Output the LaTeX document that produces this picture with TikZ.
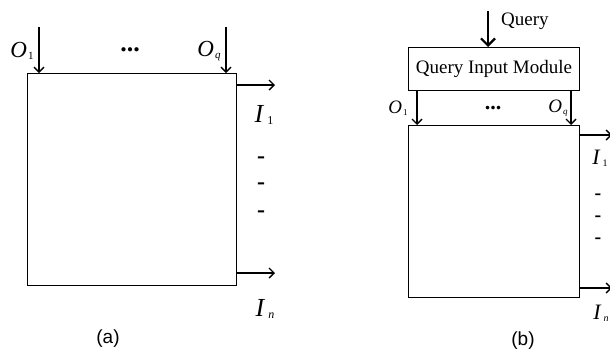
\documentclass[tikz,border=0pt]{standalone}
\usepackage{fontspec}
\setmainfont{Liberation Serif}
\newfontfamily\sansf{Liberation Sans}
\usetikzlibrary{arrows.meta}
\newcommand{\lab}[5]{{\fontsize{#1}{#1}\selectfont\itshape #2}\kern#5\raisebox{-0.2em}{\fontsize{#4}{#4}\selectfont #3}}
\tikzset{
  box/.style={draw, line width=1pt, anchor=north west, inner sep=0pt},
  arr/.style={line width=1.6pt, -{Straight Barb[length=5pt,width=10pt,line width=1.4pt]}},
  bigarr/.style={line width=2.4pt, -{Straight Barb[length=7pt,width=14pt,line width=2.2pt]}},
  lbl/.style={inner sep=0pt},
  dashmark/.style={inner sep=0pt, font=\fontsize{24}{24}\selectfont\bfseries},
  dotsmark/.style={inner sep=0pt, font=\fontsize{26}{26}\selectfont\bfseries},
}
\begin{document}
\begin{tikzpicture}[x=1pt,y=-1pt]
\useasboundingbox (0,0) rectangle (610,357);
% ---------- (a) ----------
\node[box, minimum width=209pt, minimum height=212pt] (A) at (27,73) {};
\coordinate (ao1) at (39,27);
\coordinate (aoq) at (226,27);
\draw[arr] (ao1) -- (ao1 |- A.north);
\draw[arr] (aoq) -- (aoq |- A.north);
\coordinate (ai1) at (275,85);
\coordinate (ain) at (275,273);
\draw[arr] (ai1 -| A.east) -- (ai1);
\draw[arr] (ain -| A.east) -- (ain);
\node[lbl] (aO1) at (22,51) {\lab{23}{O}{1}{11}{1pt}};
\node[lbl] (aOq) at (209,51) {\lab{23}{O}{\itshape q}{11}{1pt}};
\node[dotsmark] (adots) at (130,50) {...};
\node[lbl] (aI1) at (264,115) {\lab{26}{I}{1}{12}{4pt}};
\node[lbl] (aIn) at (265,309) {\lab{26}{I}{\itshape n}{12}{4pt}};
\node[dashmark] (ad1) at (261,160) {-};
\node[dashmark] (ad2) at (261,186) {-};
\node[dashmark] (ad3) at (261,214) {-};
\node[lbl, font=\sansf\fontsize{19}{19}\selectfont] (capa) at (108,339) {(a)};
% ---------- (b) ----------
\node[box, minimum width=171pt, minimum height=43pt] (Q) at (408,47) {};
\node[lbl, font=\fontsize{19}{19}\selectfont] (qtext) at (Q.center) {Query Input Module};
\node[box, minimum width=171pt, minimum height=172pt] (B) at (408,125) {};
\coordinate (qs) at (488,11);
\draw[bigarr] (qs) -- (qs |- Q.north);
\node[lbl, anchor=west, font=\fontsize{19}{19}\selectfont] (qlab) at (501,21) {Query};
\coordinate (bo1) at (417,100);
\coordinate (boq) at (571,100);
\draw[arr] (bo1 |- Q.south) -- (bo1 |- B.north);
\draw[arr] (boq |- Q.south) -- (boq |- B.north);
\node[lbl] (bO1) at (398,108) {\lab{19}{O}{1}{9}{1pt}};
\node[lbl] (bOq) at (558,108) {\lab{19}{O}{\itshape q}{9}{1pt}};
\node[dotsmark, font=\fontsize{22}{22}\selectfont\bfseries] (bdots) at (493,108) {...};
\coordinate (bi1) at (612,135);
\coordinate (bin) at (612,288);
\draw[arr] (bi1 -| B.east) -- (bi1);
\draw[arr] (bin -| B.east) -- (bin);
\node[lbl] (bI1) at (600,158) {\lab{22}{I}{1}{10}{3pt}};
\node[lbl] (bIn) at (601,313) {\lab{22}{I}{\itshape n}{10}{3pt}};
\node[dashmark, font=\fontsize{20}{20}\selectfont\bfseries] (bd1) at (598,197) {-};
\node[dashmark, font=\fontsize{20}{20}\selectfont\bfseries] (bd2) at (598,219) {-};
\node[dashmark, font=\fontsize{20}{20}\selectfont\bfseries] (bd3) at (598,241) {-};
\node[lbl, font=\sansf\fontsize{19}{19}\selectfont] (capb) at (523,341) {(b)};
\end{tikzpicture}
\end{document}
